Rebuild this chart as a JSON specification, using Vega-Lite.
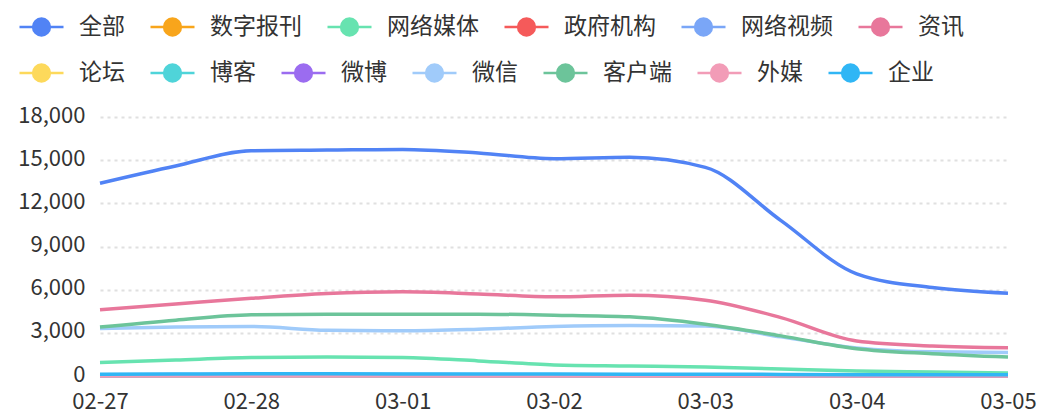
{
  "$schema": "https://vega.github.io/schema/vega-lite/v6.json",
  "width": 908,
  "height": 259,
  "autosize": "none",
  "padding": {"left": 100, "top": 117, "right": 38, "bottom": 39},
  "config": {
    "view": {"stroke": null},
    "font": "Noto Sans CJK SC",
    "legend": {
      "orient": "none",
      "direction": "horizontal",
      "title": null,
      "symbolType": "M -1 0 L 1 0 M 0.38 0 A 0.38 0.38 0 1 1 -0.38 0 A 0.38 0.38 0 1 1 0.38 0 M 0.28 0 A 0.28 0.28 0 1 1 -0.28 0 A 0.28 0.28 0 1 1 0.28 0 M 0.18 0 A 0.18 0.18 0 1 1 -0.18 0 A 0.18 0.18 0 1 1 0.18 0 M 0.08 0 A 0.08 0.08 0 1 1 -0.08 0 A 0.08 0.08 0 1 1 0.08 0",
      "symbolSize": 1936,
      "symbolStrokeWidth": 2.6,
      "labelFontSize": 23,
      "labelColor": "#333333",
      "labelOffset": 14,
      "columnPadding": 20
    }
  },
  "datasets": {
    "a": [
      {"s": "全部", "t": "2023-02-27T00:00:00", "v": 13400}, {"s": "全部", "t": "2023-02-27T12:00:00", "v": 14600}, {"s": "全部", "t": "2023-02-28T00:00:00", "v": 15650}, {"s": "全部", "t": "2023-02-28T12:00:00", "v": 15700}, {"s": "全部", "t": "2023-03-01T00:00:00", "v": 15750}, {"s": "全部", "t": "2023-03-01T12:00:00", "v": 15500}, {"s": "全部", "t": "2023-03-02T00:00:00", "v": 15100}, {"s": "全部", "t": "2023-03-02T12:00:00", "v": 15200}, {"s": "全部", "t": "2023-03-03T00:00:00", "v": 14500}, {"s": "全部", "t": "2023-03-03T12:00:00", "v": 10800}, {"s": "全部", "t": "2023-03-04T00:00:00", "v": 7100}, {"s": "全部", "t": "2023-03-04T12:00:00", "v": 6150}, {"s": "全部", "t": "2023-03-05T00:00:00", "v": 5750},
      {"s": "数字报刊", "t": "2023-02-27T00:00:00", "v": 20}, {"s": "数字报刊", "t": "2023-02-27T12:00:00", "v": 25}, {"s": "数字报刊", "t": "2023-02-28T00:00:00", "v": 30}, {"s": "数字报刊", "t": "2023-02-28T12:00:00", "v": 28}, {"s": "数字报刊", "t": "2023-03-01T00:00:00", "v": 25}, {"s": "数字报刊", "t": "2023-03-01T12:00:00", "v": 22}, {"s": "数字报刊", "t": "2023-03-02T00:00:00", "v": 20}, {"s": "数字报刊", "t": "2023-03-02T12:00:00", "v": 18}, {"s": "数字报刊", "t": "2023-03-03T00:00:00", "v": 15}, {"s": "数字报刊", "t": "2023-03-03T12:00:00", "v": 12}, {"s": "数字报刊", "t": "2023-03-04T00:00:00", "v": 10}, {"s": "数字报刊", "t": "2023-03-04T12:00:00", "v": 8}, {"s": "数字报刊", "t": "2023-03-05T00:00:00", "v": 8},
      {"s": "网络媒体", "t": "2023-02-27T00:00:00", "v": 930}, {"s": "网络媒体", "t": "2023-02-27T12:00:00", "v": 1110}, {"s": "网络媒体", "t": "2023-02-28T00:00:00", "v": 1280}, {"s": "网络媒体", "t": "2023-02-28T12:00:00", "v": 1320}, {"s": "网络媒体", "t": "2023-03-01T00:00:00", "v": 1280}, {"s": "网络媒体", "t": "2023-03-01T12:00:00", "v": 1050}, {"s": "网络媒体", "t": "2023-03-02T00:00:00", "v": 770}, {"s": "网络媒体", "t": "2023-03-02T12:00:00", "v": 700}, {"s": "网络媒体", "t": "2023-03-03T00:00:00", "v": 630}, {"s": "网络媒体", "t": "2023-03-03T12:00:00", "v": 490}, {"s": "网络媒体", "t": "2023-03-04T00:00:00", "v": 350}, {"s": "网络媒体", "t": "2023-03-04T12:00:00", "v": 280}, {"s": "网络媒体", "t": "2023-03-05T00:00:00", "v": 210},
      {"s": "政府机构", "t": "2023-02-27T00:00:00", "v": 10}, {"s": "政府机构", "t": "2023-02-27T12:00:00", "v": 12}, {"s": "政府机构", "t": "2023-02-28T00:00:00", "v": 15}, {"s": "政府机构", "t": "2023-02-28T12:00:00", "v": 14}, {"s": "政府机构", "t": "2023-03-01T00:00:00", "v": 12}, {"s": "政府机构", "t": "2023-03-01T12:00:00", "v": 10}, {"s": "政府机构", "t": "2023-03-02T00:00:00", "v": 10}, {"s": "政府机构", "t": "2023-03-02T12:00:00", "v": 9}, {"s": "政府机构", "t": "2023-03-03T00:00:00", "v": 8}, {"s": "政府机构", "t": "2023-03-03T12:00:00", "v": 6}, {"s": "政府机构", "t": "2023-03-04T00:00:00", "v": 5}, {"s": "政府机构", "t": "2023-03-04T12:00:00", "v": 4}, {"s": "政府机构", "t": "2023-03-05T00:00:00", "v": 4},
      {"s": "网络视频", "t": "2023-02-27T00:00:00", "v": 90}, {"s": "网络视频", "t": "2023-02-27T12:00:00", "v": 100}, {"s": "网络视频", "t": "2023-02-28T00:00:00", "v": 110}, {"s": "网络视频", "t": "2023-02-28T12:00:00", "v": 105}, {"s": "网络视频", "t": "2023-03-01T00:00:00", "v": 100}, {"s": "网络视频", "t": "2023-03-01T12:00:00", "v": 95}, {"s": "网络视频", "t": "2023-03-02T00:00:00", "v": 90}, {"s": "网络视频", "t": "2023-03-02T12:00:00", "v": 85}, {"s": "网络视频", "t": "2023-03-03T00:00:00", "v": 80}, {"s": "网络视频", "t": "2023-03-03T12:00:00", "v": 60}, {"s": "网络视频", "t": "2023-03-04T00:00:00", "v": 40}, {"s": "网络视频", "t": "2023-03-04T12:00:00", "v": 35}, {"s": "网络视频", "t": "2023-03-05T00:00:00", "v": 30},
      {"s": "资讯", "t": "2023-02-27T00:00:00", "v": 4600}, {"s": "资讯", "t": "2023-02-27T12:00:00", "v": 5000}, {"s": "资讯", "t": "2023-02-28T00:00:00", "v": 5400}, {"s": "资讯", "t": "2023-02-28T12:00:00", "v": 5730}, {"s": "资讯", "t": "2023-03-01T00:00:00", "v": 5850}, {"s": "资讯", "t": "2023-03-01T12:00:00", "v": 5700}, {"s": "资讯", "t": "2023-03-02T00:00:00", "v": 5500}, {"s": "资讯", "t": "2023-03-02T12:00:00", "v": 5620}, {"s": "资讯", "t": "2023-03-03T00:00:00", "v": 5270}, {"s": "资讯", "t": "2023-03-03T12:00:00", "v": 4060}, {"s": "资讯", "t": "2023-03-04T00:00:00", "v": 2440}, {"s": "资讯", "t": "2023-03-04T12:00:00", "v": 2090}, {"s": "资讯", "t": "2023-03-05T00:00:00", "v": 1970}
    ],
    "b": [
      {"s": "论坛", "t": "2023-02-27T00:00:00", "v": 30}, {"s": "论坛", "t": "2023-02-27T12:00:00", "v": 35}, {"s": "论坛", "t": "2023-02-28T00:00:00", "v": 40}, {"s": "论坛", "t": "2023-02-28T12:00:00", "v": 38}, {"s": "论坛", "t": "2023-03-01T00:00:00", "v": 35}, {"s": "论坛", "t": "2023-03-01T12:00:00", "v": 30}, {"s": "论坛", "t": "2023-03-02T00:00:00", "v": 28}, {"s": "论坛", "t": "2023-03-02T12:00:00", "v": 26}, {"s": "论坛", "t": "2023-03-03T00:00:00", "v": 25}, {"s": "论坛", "t": "2023-03-03T12:00:00", "v": 20}, {"s": "论坛", "t": "2023-03-04T00:00:00", "v": 15}, {"s": "论坛", "t": "2023-03-04T12:00:00", "v": 12}, {"s": "论坛", "t": "2023-03-05T00:00:00", "v": 10},
      {"s": "博客", "t": "2023-02-27T00:00:00", "v": 5}, {"s": "博客", "t": "2023-02-27T12:00:00", "v": 6}, {"s": "博客", "t": "2023-02-28T00:00:00", "v": 8}, {"s": "博客", "t": "2023-02-28T12:00:00", "v": 7}, {"s": "博客", "t": "2023-03-01T00:00:00", "v": 6}, {"s": "博客", "t": "2023-03-01T12:00:00", "v": 5}, {"s": "博客", "t": "2023-03-02T00:00:00", "v": 5}, {"s": "博客", "t": "2023-03-02T12:00:00", "v": 4}, {"s": "博客", "t": "2023-03-03T00:00:00", "v": 4}, {"s": "博客", "t": "2023-03-03T12:00:00", "v": 3}, {"s": "博客", "t": "2023-03-04T00:00:00", "v": 2}, {"s": "博客", "t": "2023-03-04T12:00:00", "v": 2}, {"s": "博客", "t": "2023-03-05T00:00:00", "v": 2},
      {"s": "微博", "t": "2023-02-27T00:00:00", "v": 40}, {"s": "微博", "t": "2023-02-27T12:00:00", "v": 45}, {"s": "微博", "t": "2023-02-28T00:00:00", "v": 50}, {"s": "微博", "t": "2023-02-28T12:00:00", "v": 48}, {"s": "微博", "t": "2023-03-01T00:00:00", "v": 45}, {"s": "微博", "t": "2023-03-01T12:00:00", "v": 42}, {"s": "微博", "t": "2023-03-02T00:00:00", "v": 40}, {"s": "微博", "t": "2023-03-02T12:00:00", "v": 38}, {"s": "微博", "t": "2023-03-03T00:00:00", "v": 35}, {"s": "微博", "t": "2023-03-03T12:00:00", "v": 30}, {"s": "微博", "t": "2023-03-04T00:00:00", "v": 20}, {"s": "微博", "t": "2023-03-04T12:00:00", "v": 18}, {"s": "微博", "t": "2023-03-05T00:00:00", "v": 15},
      {"s": "微信", "t": "2023-02-27T00:00:00", "v": 3300}, {"s": "微信", "t": "2023-02-27T12:00:00", "v": 3400}, {"s": "微信", "t": "2023-02-28T00:00:00", "v": 3440}, {"s": "微信", "t": "2023-02-28T12:00:00", "v": 3180}, {"s": "微信", "t": "2023-03-01T00:00:00", "v": 3140}, {"s": "微信", "t": "2023-03-01T12:00:00", "v": 3250}, {"s": "微信", "t": "2023-03-02T00:00:00", "v": 3440}, {"s": "微信", "t": "2023-03-02T12:00:00", "v": 3510}, {"s": "微信", "t": "2023-03-03T00:00:00", "v": 3480}, {"s": "微信", "t": "2023-03-03T12:00:00", "v": 2720}, {"s": "微信", "t": "2023-03-04T00:00:00", "v": 1950}, {"s": "微信", "t": "2023-03-04T12:00:00", "v": 1680}, {"s": "微信", "t": "2023-03-05T00:00:00", "v": 1640},
      {"s": "客户端", "t": "2023-02-27T00:00:00", "v": 3400}, {"s": "客户端", "t": "2023-02-27T12:00:00", "v": 3880}, {"s": "客户端", "t": "2023-02-28T00:00:00", "v": 4250}, {"s": "客户端", "t": "2023-02-28T12:00:00", "v": 4300}, {"s": "客户端", "t": "2023-03-01T00:00:00", "v": 4300}, {"s": "客户端", "t": "2023-03-01T12:00:00", "v": 4300}, {"s": "客户端", "t": "2023-03-02T00:00:00", "v": 4230}, {"s": "客户端", "t": "2023-03-02T12:00:00", "v": 4110}, {"s": "客户端", "t": "2023-03-03T00:00:00", "v": 3600}, {"s": "客户端", "t": "2023-03-03T12:00:00", "v": 2790}, {"s": "客户端", "t": "2023-03-04T00:00:00", "v": 1900}, {"s": "客户端", "t": "2023-03-04T12:00:00", "v": 1550}, {"s": "客户端", "t": "2023-03-05T00:00:00", "v": 1320},
      {"s": "外媒", "t": "2023-02-27T00:00:00", "v": 0}, {"s": "外媒", "t": "2023-02-27T12:00:00", "v": 0}, {"s": "外媒", "t": "2023-02-28T00:00:00", "v": 1}, {"s": "外媒", "t": "2023-02-28T12:00:00", "v": 0}, {"s": "外媒", "t": "2023-03-01T00:00:00", "v": 0}, {"s": "外媒", "t": "2023-03-01T12:00:00", "v": 1}, {"s": "外媒", "t": "2023-03-02T00:00:00", "v": 0}, {"s": "外媒", "t": "2023-03-02T12:00:00", "v": 0}, {"s": "外媒", "t": "2023-03-03T00:00:00", "v": 0}, {"s": "外媒", "t": "2023-03-03T12:00:00", "v": 0}, {"s": "外媒", "t": "2023-03-04T00:00:00", "v": 0}, {"s": "外媒", "t": "2023-03-04T12:00:00", "v": 0}, {"s": "外媒", "t": "2023-03-05T00:00:00", "v": 0},
      {"s": "企业", "t": "2023-02-27T00:00:00", "v": 130}, {"s": "企业", "t": "2023-02-27T12:00:00", "v": 140}, {"s": "企业", "t": "2023-02-28T00:00:00", "v": 150}, {"s": "企业", "t": "2023-02-28T12:00:00", "v": 150}, {"s": "企业", "t": "2023-03-01T00:00:00", "v": 145}, {"s": "企业", "t": "2023-03-01T12:00:00", "v": 140}, {"s": "企业", "t": "2023-03-02T00:00:00", "v": 135}, {"s": "企业", "t": "2023-03-02T12:00:00", "v": 130}, {"s": "企业", "t": "2023-03-03T00:00:00", "v": 125}, {"s": "企业", "t": "2023-03-03T12:00:00", "v": 110}, {"s": "企业", "t": "2023-03-04T00:00:00", "v": 95}, {"s": "企业", "t": "2023-03-04T12:00:00", "v": 90}, {"s": "企业", "t": "2023-03-05T00:00:00", "v": 85}
    ]
  },
  "encoding": {
    "x": {
      "field": "t", "type": "temporal",
      "scale": {"nice": false},
      "axis": {
        "format": "%m-%d", "tickCount": {"interval": "day", "step": 1},
        "labelFlush": false, "domain": false, "ticks": false, "grid": false, "title": null,
        "labelFontSize": 22, "labelColor": "#333333", "labelPadding": 15, "labelAngle": 0, "labelOverlap": false
      }
    },
    "y": {
      "field": "v", "type": "quantitative",
      "scale": {"domain": [0, 18000], "nice": false},
      "axis": {
        "values": [0, 3000, 6000, 9000, 12000, 15000, 18000], "format": ",.0f",
        "domain": false, "ticks": false, "title": null,
        "labelFontSize": 22, "labelColor": "#333333", "labelPadding": 15, "labelOffset": -2,
        "gridDash": [3, 4], "gridColor": "#e0e0e0", "gridWidth": 2
      }
    }
  },
  "layer": [
    {
      "data": {"name": "a"},
      "mark": {"type": "line", "interpolate": "monotone", "strokeWidth": 3.5},
      "encoding": {
        "color": {
          "field": "s", "type": "nominal",
          "scale": {
            "domain": ["全部", "数字报刊", "网络媒体", "政府机构", "网络视频", "资讯"],
            "range": ["#5183f5", "#f8a51b", "#67e3b0", "#f55a5a", "#7aa6f7", "#e8779b"]
          },
          "legend": {"legendX": -82, "legendY": -114}
        }
      }
    },
    {
      "data": {"name": "b"},
      "mark": {"type": "line", "interpolate": "monotone", "strokeWidth": 3.5},
      "encoding": {
        "color": {
          "field": "s", "type": "nominal",
          "scale": {
            "domain": ["论坛", "博客", "微博", "微信", "客户端", "外媒", "企业"],
            "range": ["#fdd95b", "#4fd4d9", "#9b6cf0", "#a0cbfa", "#6cc49a", "#f29cb7", "#30b6f5"]
          },
          "legend": {"legendX": -82, "legendY": -68}
        }
      }
    }
  ],
  "resolve": {"scale": {"color": "independent"}}
}
